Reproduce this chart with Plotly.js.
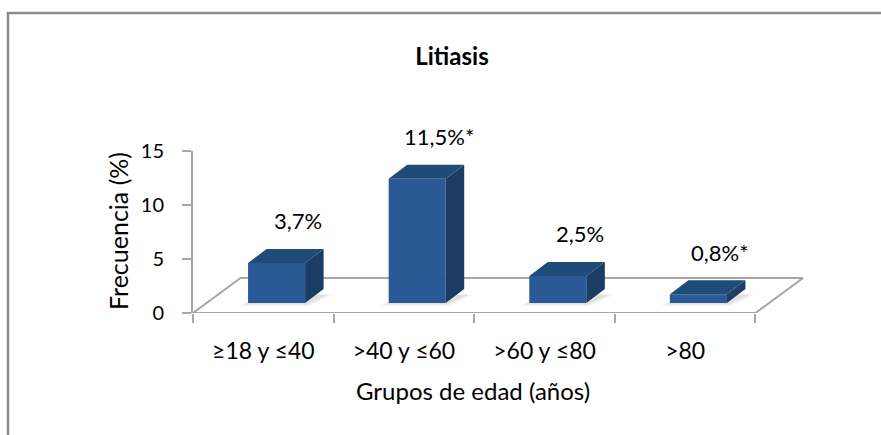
<!DOCTYPE html>
<html>
<head>
<meta charset="utf-8">
<script src="https://cdn.plot.ly/plotly-3.0.1.min.js"></script>
<style>
  html, body { margin: 0; padding: 0; background: #ffffff; }
  #chart { width: 881px; height: 435px; }
</style>
</head>
<body>
<div id="chart"></div>
<script>
// ---- data ----
const categories = ['≥18 y ≤40', '>40 y ≤60', '>60 y ≤80', '>80'];
const values = [3.7, 11.5, 2.5, 0.8];
const valueLabels = ['3,7%', '11,5%*', '2,5%', '0,8%*'];
const yTickVals = [0, 5, 10, 15];
const chartTitle = 'Litiasis';
const xTitle = 'Grupos de edad (años)';
const yTitle = 'Frecuencia (%)';

// ---- pseudo-3D geometry (in axis units) ----
const Y_MAX = 15;
const XU = 140.5, YU = 10.8;          // px per axis unit (approx)
const base = 10 / YU;                  // bars stand at mid-depth of floor
const fx0 = 55 / XU - 0.5;             // front face left, relative to category index
const fw = 57 / XU;                    // front face width
const ddx = 18.5 / XU, ddy = 14 / YU;  // bar depth offset
const floorDx = 47.5 / XU, floorDy = 35 / YU;
const X_MAX = 3.5 + floorDx;

const idx = categories.map((_, i) => i);
const xLeft = idx.map(i => i + fx0);
const xRight = idx.map(i => i + fx0 + fw);

const FRONT = '#2A5A95', TOP = '#1E4B77', SIDE = '#1B3D65';
const GRID = '#A6A6A6';
const FONT = 'Lato, "Open Sans", sans-serif';

// side faces
const sx = [], sy = [];
// top faces
const tx = [], ty = [];
idx.forEach(i => {
  const v = values[i], xl = xLeft[i], xr = xRight[i];
  sx.push(xr, xr + ddx, xr + ddx, xr, xr, null);
  sy.push(base, base + ddy, base + v + ddy, base + v, base, null);
  tx.push(xl, xr, xr + ddx, xl + ddx, xl, null);
  ty.push(base + v, base + v, base + v + ddy, base + v + ddy, base + v, null);
});

const traces = [
  {
    type: 'bar',
    x: idx.map(i => i + fx0 + fw / 2),
    y: values,
    base: base,
    width: fw,
    marker: { color: FRONT, line: { width: 0 } },
    hoverinfo: 'skip',
    showlegend: false
  },
  {
    type: 'scatter', mode: 'lines', x: sx, y: sy, fill: 'toself',
    fillcolor: SIDE, line: { width: 0, color: SIDE }, hoverinfo: 'skip', showlegend: false
  },
  {
    type: 'scatter', mode: 'lines', x: tx, y: ty, fill: 'toself',
    fillcolor: TOP, line: { width: 0, color: TOP }, hoverinfo: 'skip', showlegend: false
  }
];

// floor + shadows (decoration beneath the bars)
const shapes = [
  {
    type: 'path', xref: 'x', yref: 'y', layer: 'below',
    path: `M -0.5,0 L 3.5,0 L ${3.5 + floorDx},${floorDy} L ${-0.5 + floorDx},${floorDy} Z`,
    fillcolor: '#FFFFFF', line: { color: GRID, width: 2 }
  },
  // outer chart border
  {
    type: 'rect', xref: 'paper', yref: 'paper', layer: 'above',
    x0: (8 - 193) / 610, x1: 1.3, y0: -1.2, y1: (313 - 13) / 162,
    line: { color: '#8C8C8C', width: 2.5 }, fillcolor: 'rgba(0,0,0,0)'
  }
];
idx.forEach(i => {
  const xl = xLeft[i], xr = xRight[i];
  [[9, 3, 'rgba(0,0,0,0.05)'], [5, 1.5, 'rgba(0,0,0,0.07)']].forEach(([px, py, c]) => {
    const ox = px / XU, oy = py / YU;
    shapes.push({
      type: 'path', xref: 'x', yref: 'y', layer: 'below',
      path: `M ${xl - ox},${base - oy} L ${xr + ox * 0.4},${base - oy} L ${xr + ddx + ox},${base + ddy * 0.6} L ${xl + ddx},${base + ddy * 0.6} Z`,
      fillcolor: c, line: { width: 0 }
    });
  });
});

// value labels (paper coords derived from the axis scale, so they are never hidden)
const annotations = idx.map(i => ({
  text: valueLabels[i], xref: 'paper', yref: 'paper',
  x: (i + 0.25 + 0.5) / (X_MAX + 0.5),
  y: (base + values[i] + 3.9) / Y_MAX,
  xanchor: 'center', yanchor: 'middle', showarrow: false,
  font: { family: FONT, size: 22, color: '#000000' }
}));
annotations.push(
  {
    text: xTitle, xref: 'paper', yref: 'paper',
    x: (473 - 193) / 610, y: (313 - 390) / 162,
    xanchor: 'center', yanchor: 'middle', showarrow: false,
    font: { family: FONT, size: 24, color: '#000000' }
  },
  {
    text: yTitle, xref: 'paper', yref: 'paper', textangle: -90,
    x: (118 - 193) / 610, y: (313 - 231) / 162,
    xanchor: 'center', yanchor: 'middle', showarrow: false,
    font: { family: FONT, size: 25, color: '#000000' }
  }
);

const layout = {
  width: 881, height: 435,
  margin: { l: 193, r: 78, t: 151, b: 122, autoexpand: false },
  paper_bgcolor: '#FFFFFF', plot_bgcolor: 'rgba(0,0,0,0)',
  showlegend: false,
  title: {
    text: '<b>' + chartTitle + '</b>',
    font: { family: FONT, size: 24, color: '#000000' },
    x: 452 / 881, xref: 'container', xanchor: 'center',
    y: 1 - 57 / 435, yref: 'container', yanchor: 'middle'
  },
  xaxis: {
    range: [-0.5, X_MAX],
    showgrid: false, zeroline: false, showline: false,
    tickmode: 'array',
    tickvals: idx,
    ticktext: categories,
    ticks: '',
    tickfont: { family: FONT, size: 23, color: '#000000' },
    ticklabelstandoff: 22,
    minor: {
      tickmode: 'array',
      tickvals: [-0.5, 0.5, 1.5, 2.5, 3.5],
      ticks: 'outside', ticklen: 9, tickwidth: 2, tickcolor: GRID, showgrid: false
    },
    fixedrange: true
  },
  yaxis: {
    range: [0, Y_MAX],
    tickmode: 'array', tickvals: yTickVals,
    showgrid: false, zeroline: false,
    showline: true, linecolor: GRID, linewidth: 2,
    ticks: 'outside', ticklen: 9, tickwidth: 2, tickcolor: GRID,
    tickfont: { family: FONT, size: 20, color: '#000000' },
    ticklabelstandoff: 14,
    fixedrange: true
  },
  annotations: annotations,
  shapes: shapes
};

Plotly.newPlot('chart', traces, layout, { staticPlot: true, displayModeBar: false });
</script>
</body>
</html>
